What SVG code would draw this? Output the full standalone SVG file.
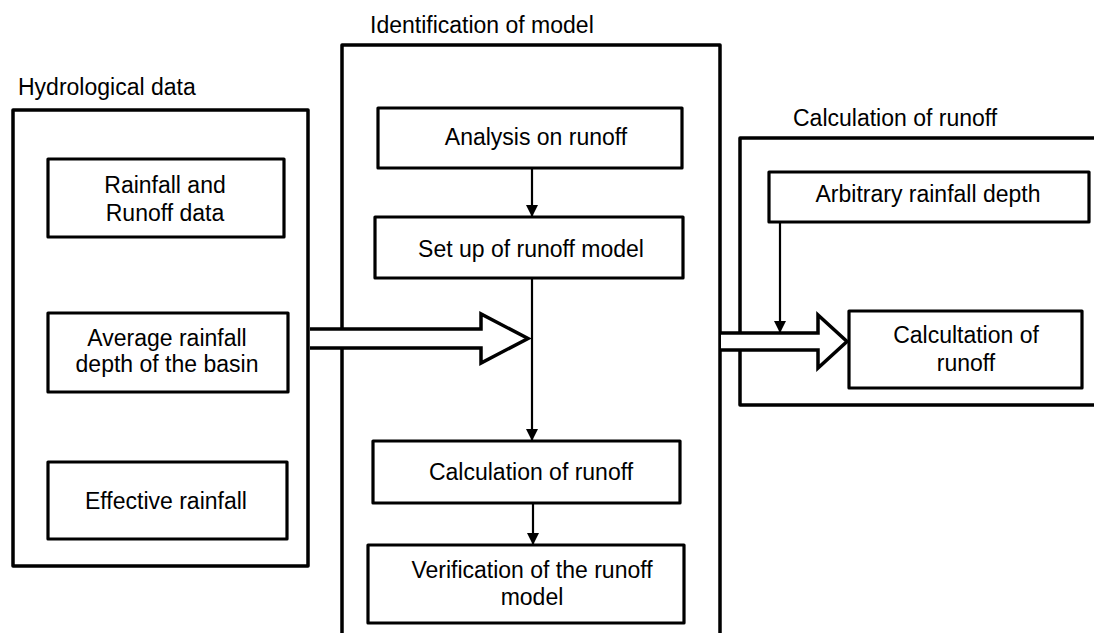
<svg xmlns="http://www.w3.org/2000/svg" width="1094" height="633" viewBox="0 0 1094 633">
  <defs>
    <style>
      .panel { fill: #ffffff; stroke: #000000; stroke-width: 3.5; stroke-linejoin: round; }
      .box { fill: #ffffff; stroke: #000000; stroke-width: 3.2; stroke-linejoin: round; }
      .title { font-family: "Liberation Sans", Arial, sans-serif; font-size: 23px; fill: #000000; }
      .label { font-family: "Liberation Sans", Arial, sans-serif; font-size: 23px; fill: #000000; text-anchor: middle; }
      .flow { fill: none; stroke: #000000; stroke-width: 2.2; }
      .block { fill: #ffffff; stroke: #000000; stroke-width: 3.5; stroke-linejoin: miter; }
    </style>
    <marker id="head" viewBox="0 0 12 12" refX="12" refY="6" markerWidth="12" markerHeight="12" markerUnits="userSpaceOnUse" orient="auto">
      <path d="M0,0 L12,6 L0,12 Z" fill="#000000"/>
    </marker>
  </defs>

  <rect width="1094" height="633" fill="#ffffff"/>

  <!-- Hydrological data panel -->
  <g id="panel-hydrological">
    <text class="title" x="18" y="95">Hydrological data</text>
    <rect class="panel" x="13" y="110" width="295" height="456"/>
  </g>

  <!-- Identification of model panel (runs off the bottom edge) -->
  <g id="panel-identification">
    <text class="title" x="370" y="33">Identification of model</text>
    <path class="panel" d="M342,640 V45 H720 V640"/>
  </g>

  <!-- Calculation of runoff panel (runs off the right edge) -->
  <g id="panel-calculation">
    <text class="title" x="793" y="126">Calculation of runoff</text>
    <path class="panel" d="M1100,138 H740 V405 H1100"/>
  </g>

  <!-- Left column nodes -->
  <g id="node-rainfall-runoff">
    <rect class="box" x="48" y="159" width="236" height="78"/>
    <text class="label" x="165" y="193">Rainfall and</text>
    <text class="label" x="165" y="221">Runoff data</text>
  </g>
  <g id="node-average-rainfall">
    <rect class="box" x="48" y="313" width="240" height="79"/>
    <text class="label" x="167" y="346">Average rainfall</text>
    <text class="label" x="167" y="372">depth of the basin</text>
  </g>
  <g id="node-effective-rainfall">
    <rect class="box" x="48" y="462" width="239" height="77"/>
    <text class="label" x="166" y="509">Effective rainfall</text>
  </g>

  <!-- Middle column nodes -->
  <g id="node-analysis">
    <rect class="box" x="378" y="108" width="304" height="60"/>
    <text class="label" x="536" y="145">Analysis on runoff</text>
  </g>
  <g id="node-setup">
    <rect class="box" x="375" y="217" width="308" height="61"/>
    <text class="label" x="531" y="257">Set up of runoff model</text>
  </g>
  <g id="node-calculation">
    <rect class="box" x="373" y="441" width="307" height="62"/>
    <text class="label" x="531" y="480">Calculation of runoff</text>
  </g>
  <g id="node-verification">
    <rect class="box" x="368" y="545" width="316" height="78"/>
    <text class="label" x="532" y="578">Verification of the runoff</text>
    <text class="label" x="532" y="605">model</text>
  </g>

  <!-- Right column nodes -->
  <g id="node-arbitrary">
    <rect class="box" x="769" y="172" width="320" height="50"/>
    <text class="label" x="928" y="202">Arbitrary rainfall depth</text>
  </g>

  <!-- Connectors -->
  <g id="connectors">
    <line class="flow" x1="532" y1="168" x2="532" y2="217" marker-end="url(#head)"/>
    <line class="flow" x1="532" y1="278" x2="532" y2="441" marker-end="url(#head)"/>
    <line class="flow" x1="533" y1="503" x2="533" y2="545" marker-end="url(#head)"/>
    <!-- hollow block arrows between panels -->
    <path class="block" d="M310,329 H481 V314 L528,338.5 L481,363 V348 H310"/>
    <path class="block" d="M721,333 H818 V315 L847,341.5 L818,368 V350 H721"/>
    <line class="flow" x1="780" y1="222" x2="780" y2="333" marker-end="url(#head)"/>
  </g>

  <g id="node-calcultation">
    <rect class="box" x="849" y="311" width="233" height="77"/>
    <text class="label" x="966" y="343">Calcultation of</text>
    <text class="label" x="966" y="371">runoff</text>
  </g>
</svg>
